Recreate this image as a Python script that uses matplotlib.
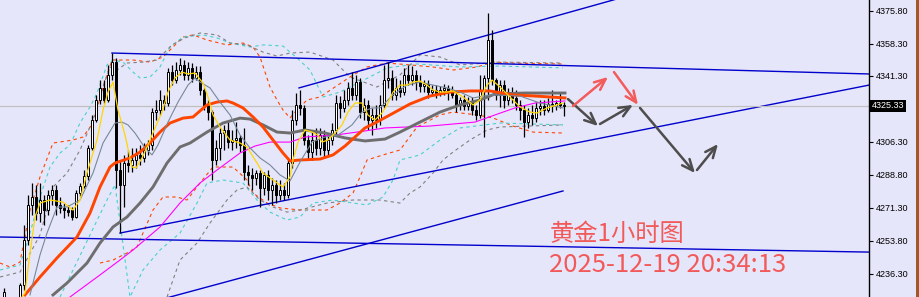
import matplotlib
matplotlib.use("Agg")

import matplotlib.pyplot as plt
from matplotlib.patches import Rectangle
from matplotlib.transforms import blended_transform_factory

# ---- candles (one per hour, oldest first) ----
opens = [
    4219.9, 4220.5, 4218.0, 4220.0, 4219.9, 4230.5, 4254.3, 4272.9, 4277.1, 4268.6,
    4275.5, 4270.2, 4278.2, 4280.8, 4272.9, 4271.3, 4270.2, 4270.2, 4266.5, 4279.2,
    4282.9, 4288.2, 4303.1, 4317.9, 4328.5, 4334.9, 4328.5, 4341.8, 4348.6, 4291.4,
    4283.5, 4295.1, 4294.1, 4296.7, 4299.4, 4297.8, 4302.0, 4304.7, 4322.1, 4323.2,
    4328.5, 4326.9, 4343.3, 4339.1, 4344.4, 4347.0, 4341.8, 4345.5, 4340.2, 4343.3,
    4333.8, 4325.9, 4322.1, 4296.7, 4303.1, 4311.0, 4312.6, 4306.2, 4307.3, 4308.4,
    4304.7, 4290.3, 4288.7, 4287.2, 4289.8, 4281.9, 4288.7, 4280.8, 4283.5, 4278.2,
    4280.8, 4278.2, 4295.1, 4317.9, 4325.9, 4324.3, 4307.3, 4300.9, 4307.3, 4303.1,
    4310.0, 4302.0, 4307.3, 4312.6, 4326.9, 4324.3, 4328.5, 4334.9, 4331.2, 4338.0,
    4322.1, 4325.9, 4317.9, 4320.5, 4317.9, 4325.9, 4339.1, 4340.2, 4331.2, 4334.9,
    4332.7, 4341.8, 4339.1, 4341.8, 4338.0, 4335.9, 4337.0, 4332.7, 4333.8, 4332.2,
    4333.8, 4334.9, 4332.7, 4331.2, 4325.9, 4328.5, 4325.3, 4327.4, 4323.2, 4320.5,
    4333.8, 4340.2, 4360.3, 4339.1, 4331.2, 4336.4, 4328.5, 4332.7, 4329.6, 4325.9,
    4323.2, 4316.8, 4320.5, 4318.9, 4324.3, 4325.3, 4323.2, 4326.4, 4325.3, 4326.9,
    4325.9,
]
highs = [
    4228.9, 4223.0, 4222.0, 4223.5, 4231.5, 4262.3, 4278.2, 4284.5, 4283.5, 4284.5,
    4278.2, 4280.8, 4283.5, 4283.5, 4277.1, 4273.9, 4272.9, 4271.8, 4280.8, 4284.5,
    4291.4, 4304.7, 4320.6, 4331.2, 4339.1, 4339.1, 4347.1, 4353.4, 4350.8, 4296.7,
    4299.4, 4302.0, 4303.1, 4303.1, 4304.7, 4305.7, 4307.3, 4324.3, 4328.5, 4333.8,
    4331.2, 4345.5, 4347.1, 4348.6, 4350.8, 4349.7, 4348.6, 4348.1, 4346.5, 4346.5,
    4334.9, 4328.5, 4323.2, 4307.3, 4313.7, 4315.3, 4316.8, 4312.6, 4316.8, 4310.0,
    4313.7, 4294.1, 4292.5, 4291.4, 4291.4, 4290.3, 4291.4, 4287.2, 4286.1, 4286.1,
    4284.5, 4297.8, 4323.2, 4332.2, 4333.8, 4325.9, 4310.0, 4312.6, 4313.7, 4313.7,
    4312.6, 4310.0, 4316.3, 4331.2, 4330.6, 4333.8, 4338.0, 4343.3, 4341.8, 4340.2,
    4329.6, 4328.5, 4324.3, 4325.9, 4331.2, 4347.1, 4348.6, 4344.4, 4340.2, 4339.1,
    4345.5, 4347.1, 4346.5, 4344.4, 4341.8, 4339.1, 4339.1, 4336.4, 4336.4, 4335.9,
    4337.0, 4336.4, 4335.9, 4333.8, 4330.1, 4331.2, 4330.1, 4330.1, 4325.9, 4341.8,
    4341.8, 4374.6, 4365.6, 4340.2, 4339.1, 4339.1, 4334.9, 4335.4, 4333.8, 4328.5,
    4325.9, 4324.3, 4325.9, 4327.4, 4328.5, 4328.5, 4329.6, 4333.8, 4328.5, 4332.7,
    4327.4,
]
lows = [
    4217.2, 4215.0, 4214.0, 4215.0, 4215.0, 4227.8, 4251.7, 4267.5, 4264.9, 4263.8,
    4262.3, 4267.5, 4272.9, 4267.5, 4268.6, 4266.0, 4267.0, 4264.9, 4266.0, 4277.6,
    4281.9, 4286.1, 4302.0, 4316.8, 4326.4, 4326.9, 4327.4, 4339.1, 4281.9, 4258.0,
    4271.8, 4290.3, 4290.3, 4292.5, 4294.1, 4295.6, 4299.4, 4302.0, 4317.9, 4320.6,
    4323.2, 4325.3, 4336.4, 4337.5, 4341.8, 4339.1, 4339.1, 4338.0, 4339.1, 4331.2,
    4323.2, 4317.9, 4286.1, 4294.1, 4296.7, 4302.0, 4303.1, 4302.0, 4303.1, 4300.9,
    4286.1, 4283.5, 4280.8, 4283.5, 4271.8, 4278.2, 4275.5, 4272.9, 4273.9, 4275.5,
    4275.5, 4276.6, 4292.5, 4315.3, 4320.6, 4304.7, 4296.7, 4296.7, 4299.4, 4299.4,
    4297.8, 4299.4, 4304.7, 4309.9, 4318.9, 4322.1, 4325.9, 4328.5, 4328.5, 4318.9,
    4317.9, 4312.6, 4309.9, 4313.7, 4315.3, 4324.3, 4334.9, 4328.5, 4328.5, 4330.1,
    4331.2, 4336.4, 4336.4, 4333.8, 4332.7, 4332.7, 4329.6, 4330.6, 4329.6, 4330.6,
    4331.2, 4328.5, 4329.6, 4322.1, 4323.2, 4323.2, 4323.2, 4320.6, 4317.9, 4318.9,
    4308.9, 4328.5, 4336.4, 4328.5, 4324.8, 4324.3, 4325.9, 4326.9, 4323.2, 4317.9,
    4308.9, 4313.7, 4315.3, 4316.8, 4320.6, 4320.6, 4322.1, 4322.1, 4323.2, 4324.3,
    4320.0,
]
closes = [
    4226.7, 4218.0, 4220.0, 4219.9, 4230.5, 4254.3, 4272.9, 4277.1, 4268.6, 4275.5,
    4270.2, 4278.2, 4280.8, 4272.9, 4271.3, 4270.2, 4269.1, 4266.5, 4279.2, 4282.9,
    4288.2, 4303.1, 4317.9, 4328.5, 4334.9, 4328.5, 4341.8, 4348.6, 4291.4, 4283.5,
    4295.1, 4294.1, 4296.7, 4299.4, 4297.8, 4302.0, 4304.7, 4322.1, 4323.2, 4328.5,
    4326.9, 4343.3, 4339.1, 4344.4, 4347.0, 4341.8, 4345.5, 4340.2, 4343.3, 4333.8,
    4325.9, 4322.1, 4296.7, 4303.1, 4311.0, 4312.6, 4306.2, 4307.3, 4308.4, 4304.7,
    4290.3, 4288.7, 4287.2, 4289.8, 4281.9, 4288.7, 4280.8, 4283.5, 4278.2, 4280.8,
    4278.2, 4295.1, 4317.9, 4325.9, 4324.3, 4307.3, 4300.9, 4307.3, 4303.1, 4310.0,
    4302.0, 4307.3, 4312.6, 4326.9, 4324.3, 4328.5, 4334.9, 4331.2, 4338.0, 4322.1,
    4325.9, 4317.9, 4320.5, 4317.9, 4325.9, 4339.1, 4340.2, 4331.2, 4334.9, 4332.7,
    4341.8, 4339.1, 4341.8, 4338.0, 4335.9, 4337.0, 4332.7, 4333.8, 4332.2, 4333.8,
    4334.9, 4332.7, 4331.2, 4325.9, 4328.5, 4325.3, 4327.4, 4323.2, 4320.5, 4333.8,
    4340.2, 4360.3, 4339.1, 4331.2, 4336.4, 4328.5, 4332.7, 4329.6, 4325.9, 4323.2,
    4316.8, 4320.5, 4318.9, 4324.3, 4325.3, 4323.2, 4326.4, 4325.3, 4326.9, 4325.9,
    4325.3,
]
last_price = 4325.33

# ---- indicator lines (bar index, price) ----
ma_fast_bars = [4.5, 5.25, 6.5, 7.75, 9, 11.5, 14.75, 17.25, 19, 20.75, 23.25, 24.75, 26, 27.25,
                28.5, 30.25, 32, 33, 34.5, 36, 37.75, 39.5, 41, 42.75, 44.5, 46, 47.75, 49.75,
                51, 52.25, 54, 56.5, 59, 60.75, 63.25, 64.75, 67.25, 69.75, 71.5, 72.25, 73.5,
                75.25, 77, 78.5, 79.5, 81, 82.75, 84.5, 86, 87.75, 89.5, 91, 92.75, 94.5, 95.75,
                97.25, 99, 100.75, 102.25, 104, 105.75, 107.25, 109, 110.75, 112.25, 114,
                115.75, 117.25, 119, 120.75, 122, 124, 126.5, 129, 131.5, 133.25, 135.75,
                138.25, 139.75]
ma_fast = [4224.1, 4226.2, 4247.4, 4266.5, 4273.9, 4275.5, 4274.4, 4270.2, 4275.5, 4289.8,
           4307.3, 4323.2, 4332.7, 4338.0, 4323.2, 4310.0, 4293.0, 4292.5, 4297.8, 4304.7,
           4313.7, 4322.1, 4332.7, 4340.2, 4343.3, 4342.3, 4342.8, 4337.5, 4330.1, 4320.6,
           4314.2, 4307.3, 4305.7, 4303.6, 4295.1, 4289.8, 4286.1, 4282.4, 4287.7, 4296.7,
           4306.2, 4312.6, 4311.5, 4309.9, 4306.2, 4307.3, 4311.0, 4315.3, 4322.1, 4326.9,
           4326.9, 4320.5, 4317.9, 4321.6, 4325.9, 4332.7, 4336.4, 4336.4, 4338.0, 4338.6,
           4336.4, 4333.8, 4332.7, 4332.7, 4333.3, 4331.2, 4328.5, 4325.9, 4328.5, 4336.4,
           4339.1, 4335.4, 4330.1, 4324.8, 4322.1, 4321.6, 4324.3, 4325.9, 4326.9]

ma_mid_bars = [6.5, 9, 10.75, 13.25, 15.75, 19, 22.25, 24.75, 27.75, 29.5, 31, 32.75, 35.25, 37,
               38.5, 41, 43.5, 46, 47.75, 49, 51.5, 54, 56.5, 59, 61.5, 64, 66.5, 69, 71.5, 74,
               77, 80.25, 83.5, 87, 89.5, 92, 94, 97.25, 100.75, 104, 107.25, 110.75, 114,
               117.25, 121.5, 129, 134, 139.75]
ma_mid = [4225.2, 4246.4, 4258.0, 4271.8, 4271.8, 4275.5, 4289.8, 4305.7, 4316.3, 4316.8,
          4315.3, 4311.0, 4303.1, 4299.4, 4304.7, 4316.8, 4327.4, 4336.4, 4340.2, 4338.0,
          4334.9, 4327.4, 4320.6, 4310.0, 4303.1, 4297.8, 4294.1, 4288.8, 4285.6, 4295.6,
          4306.2, 4308.9, 4309.9, 4315.3, 4322.1, 4324.3, 4324.3, 4331.2, 4336.4, 4338.0,
          4336.4, 4334.9, 4332.7, 4329.6, 4331.2, 4330.6, 4326.9, 4324.3]

ma_orange_bars = [5.25, 9, 13.25, 18.25, 21.5, 24, 26.5, 27.75, 31.5, 34, 36.5, 39, 41.5, 44.75,
                  47.25, 49, 50.75, 53.25, 55.75, 57.25, 59.75, 62.25, 64.75, 67.25, 69.75,
                  71.5, 74, 79, 82.25, 85.25, 87.75, 90.25, 92.75, 96.5, 101.5, 106.5, 111.5,
                  116.5, 121.5, 127.25, 132.75, 140.25]
ma_orange = [4225.2, 4234.7, 4244.8, 4255.9, 4268.6, 4282.4, 4293.0, 4295.1, 4297.8, 4300.9,
             4305.7, 4311.5, 4316.3, 4318.9, 4319.5, 4322.7, 4325.9, 4327.4, 4328.0, 4326.9,
             4324.3, 4319.5, 4314.2, 4307.3, 4300.4, 4296.2, 4296.7, 4297.2, 4299.4, 4304.1,
             4308.9, 4313.7, 4316.3, 4320.6, 4326.4, 4330.6, 4332.7, 4333.3, 4333.3, 4331.2,
             4330.6, 4329.6]

ma_slow_bars = [12.25, 15.75, 20.75, 24, 27.25, 30.75, 34, 37.25, 40.75, 44, 46.5, 50.75, 54.75,
                59, 61.5, 64.75, 68.25, 71.5, 75.25, 80.25, 85.25, 90.25, 95.25, 99, 104, 109,
                114, 119, 122.75, 130.25, 140.25]
ma_slow = [4225.2, 4231.5, 4242.1, 4252.7, 4261.2, 4266.5, 4273.9, 4282.4, 4295.1, 4303.6,
           4305.7, 4311.5, 4316.3, 4318.9, 4318.4, 4315.3, 4311.5, 4311.0, 4312.6, 4311.0,
           4308.4, 4306.8, 4307.8, 4311.5, 4316.8, 4322.1, 4325.9, 4328.5, 4331.7, 4332.2,
           4332.2]

ma_magenta_bars = [16.5, 24, 29, 32.25, 39, 44, 49, 53.25, 59, 62.75, 66.5, 71.5, 75.25, 82.75,
                   90.25, 95.25, 106.5, 117.75, 122.75, 127.75, 132.75, 140.25]
ma_magenta = [4224.1, 4235.8, 4243.7, 4249.0, 4261.2, 4273.9, 4284.5, 4291.4, 4300.4, 4304.1,
              4306.2, 4306.2, 4308.9, 4309.9, 4312.1, 4313.7, 4314.7, 4316.8, 4320.6, 4324.3,
              4326.9, 4328.0]

# envelope bands (dashed)
band_orange_up_bars = [-1, 1.5, 4, 6.5, 9, 12.25, 17.25, 19.75, 22.25, 24.75, 27, 32.25, 36.5,
                       39.75, 42.25, 44.75, 47.25, 50.75, 55.75, 59.75, 62.25, 64, 66.5, 68.25,
                       69.75, 71.5, 73.25, 75.75, 79, 86.5, 90.75, 95.75, 101.5, 107.25, 112.25,
                       118.25, 122.25, 127.25, 139.75]
band_orange_up = [4242.1, 4240.0, 4242.6, 4270.2, 4287.7, 4305.7, 4307.3, 4308.9, 4316.3, 4335.4,
                  4349.7, 4349.7, 4348.6, 4351.3, 4356.6, 4361.9, 4363.0, 4360.3, 4357.7, 4358.7,
                  4356.6, 4351.3, 4335.4, 4328.5, 4323.2, 4319.0, 4323.2, 4328.5, 4330.1, 4340.7,
                  4346.0, 4348.1, 4347.1, 4346.0, 4344.4, 4346.0, 4348.6, 4348.1, 4347.6]
band_orange_dn_bars = [24, 27.25, 30.75, 33.25, 34.75, 37.25, 39.75, 43.25, 45.75, 49, 52.25,
                       57.25, 60.75, 62.25, 65.75, 69, 74, 80.75, 84, 87.25, 89, 90.75, 94.75, 99,
                       103.25, 109, 112.25, 118.25, 122.25, 127.25, 132.25, 139.75]
band_orange_dn = [4242.1, 4243.7, 4247.4, 4250.6, 4258.0, 4270.2, 4277.1, 4277.1, 4275.5, 4284.5,
                  4293.0, 4293.0, 4286.1, 4279.2, 4273.9, 4271.3, 4270.2, 4270.2, 4273.9, 4279.2,
                  4287.7, 4296.7, 4299.4, 4302.0, 4314.2, 4320.6, 4322.1, 4320.6, 4319.0, 4314.7,
                  4311.5, 4311.0]
band_cyan_up_bars = [-1, 4, 6.5, 9, 11.5, 14, 16.5, 19, 21.5, 23.25, 25.75, 27.25, 29.75, 32.25,
                     34, 36.5, 39, 41.5, 44.75, 49.75, 53.25, 56.5, 61.5, 64.75, 69.75, 71.5,
                     73.25, 76.5, 79.75, 84, 89, 95.75, 103.25, 114, 124, 139.75]
band_cyan_up = [4238.4, 4241.0, 4258.0, 4277.1, 4293.0, 4300.4, 4304.7, 4316.3, 4324.8, 4332.2,
                4347.1, 4349.7, 4348.6, 4343.3, 4340.2, 4340.7, 4346.0, 4356.6, 4361.9, 4363.0,
                4361.4, 4358.7, 4356.6, 4357.7, 4357.1, 4353.9, 4350.8, 4344.4, 4330.1, 4332.7,
                4338.0, 4345.5, 4347.6, 4346.0, 4346.5, 4345.5]
band_cyan_dn_bars = [14, 21.5, 25.75, 27.75, 31.5, 34.75, 39, 44, 48.25, 50.75, 54.75, 59.75,
                     63.25, 66.5, 70.75, 74, 77.25, 82.25, 87.25, 90.75, 94.75, 97.25, 99, 104,
                     109, 114, 124, 139.75]
band_cyan_dn = [4224.1, 4257.0, 4275.5, 4283.5, 4224.1, 4238.4, 4249.0, 4258.0, 4273.9, 4284.5,
                4286.1, 4284.5, 4275.5, 4269.1, 4264.9, 4266.5, 4273.9, 4275.5, 4273.9, 4272.9,
                4277.1, 4286.1, 4296.7, 4299.4, 4307.3, 4313.7, 4316.3, 4315.3]
band_gray_up_bars = [-1, 4, 9, 12.25, 15.75, 19, 22.25, 24.75, 26.5, 28.25, 30.75, 34.75, 38.25,
                     42, 45.25, 49, 53.25, 56.5, 60.75, 64.75, 68.25, 71.5, 76.5, 82.25, 86.5,
                     93.25, 99, 104, 109, 114, 124, 139.75]
band_gray_up = [4234.7, 4237.3, 4257.0, 4282.4, 4289.8, 4302.0, 4317.9, 4335.4, 4346.0, 4344.4,
                4348.1, 4348.6, 4349.7, 4357.7, 4361.4, 4364.0, 4363.0, 4358.7, 4357.7, 4353.9,
                4351.8, 4353.4, 4353.9, 4349.7, 4340.7, 4335.4, 4341.8, 4352.4, 4351.3, 4347.1,
                4348.6, 4348.1]
band_gray_dn_bars = [40.75, 44, 48.25, 51.5, 55.75, 58.25, 60.75, 64, 67.25, 70.75, 74, 80.75,
                     87.25, 94, 99, 101.5, 104, 107.25, 109.75, 112.25, 116.5, 120.75, 124,
                     139.75]
band_gray_dn = [4224.1, 4243.7, 4252.7, 4263.3, 4275.5, 4280.8, 4282.4, 4275.5, 4271.8, 4269.1,
                4270.2, 4273.9, 4275.5, 4275.5, 4273.9, 4279.2, 4282.4, 4289.8, 4296.7, 4300.9,
                4307.3, 4312.6, 4314.2, 4315.3]

# ---- hand-drawn trend lines: ((bar, price), (bar, price)) ----
trend_lines = [
    ((27, 4353.4), (216.25, 4342.3)),
    ((29, 4258.0), (216.25, 4336.4)),
    ((73.75, 4334.9), (170.0, 4392.0)),
    ((-1, 4255.9), (216.25, 4247.9)),
    ((32.25, 4218.8), (139.75, 4280.3)),
]
gray_arrows = [
    ((141.0, 4329.0), (148.5, 4314.7)),
    ((149.0, 4315.8), (157.25, 4325.9)),
    ((159.0, 4324.3), (172.75, 4289.8)),
    ((173.25, 4291.4), (178.5, 4305.2)),
]
red_arrows = [
    ((142.25, 4325.3), (151.0, 4340.7)),
    ((152.5, 4343.3), (158.5, 4325.9)),
]

tick_prices = [4375.80, 4358.30, 4341.30, 4306.30, 4288.80, 4271.30, 4253.80, 4236.30]
title_text = "黄金1小时图"
stamp_text = "2025-12-19 20:34:13"

BG = "#E6E6FA"

fig = plt.figure(figsize=(9.19, 2.97), dpi=100, facecolor=BG)
ax = fig.add_axes([0, 0, 869 / 919, 1])
ax.set_facecolor(BG)
ax.set_xlim(-1, 216.25)
ax.set_ylim(4224.1, 4381.5)

dash = (0, (3, 3))
ax.plot(band_orange_up_bars, band_orange_up, color="#FF4500", lw=0.8, ls=dash)
ax.plot(band_orange_dn_bars, band_orange_dn, color="#FF4500", lw=0.8, ls=dash)
ax.plot(band_cyan_up_bars, band_cyan_up, color="#48D1CC", lw=0.8, ls=dash)
ax.plot(band_cyan_dn_bars, band_cyan_dn, color="#48D1CC", lw=0.8, ls=dash)
ax.plot(band_gray_up_bars, band_gray_up, color="#808080", lw=0.8, ls=dash)
ax.plot(band_gray_dn_bars, band_gray_dn, color="#808080", lw=0.8, ls=dash)

for (x0, y0), (x1, y1) in trend_lines:
    ax.plot([x0, x1], [y0, y1], color="#0000CD", lw=1.0)

ax.axhline(last_price, color="#C0C0C0", lw=0.9)

# candles
bars = list(range(len(closes)))
ax.vlines(bars, lows, highs, color="black", lw=0.9, zorder=3)
for i in bars:
    bottom = min(opens[i], closes[i])
    height = max(abs(closes[i] - opens[i]), 0.3)
    face = "white" if closes[i] >= opens[i] else "black"
    ax.add_patch(Rectangle((i - 0.3, bottom), 0.6, height, facecolor=face,
                           edgecolor="black", lw=0.7, zorder=4))

ax.plot(ma_magenta_bars, ma_magenta, color="#FF00FF", lw=0.8, zorder=5)
ax.plot(ma_slow_bars, ma_slow, color="#6E6E6E", lw=2.1, zorder=5)
ax.plot(ma_orange_bars, ma_orange, color="#FF4500", lw=2.1, zorder=5)
ax.plot(ma_mid_bars, ma_mid, color="#778899", lw=0.8, zorder=5)
ax.plot(ma_fast_bars, ma_fast, color="#FFD700", lw=0.9, zorder=6)

for (x0, y0), (x1, y1) in gray_arrows:
    ax.annotate("", xy=(x1, y1), xytext=(x0, y0),
                arrowprops=dict(arrowstyle="->,head_length=0.8,head_width=0.35",
                                color="#4D4D4D", lw=1.8, shrinkA=0, shrinkB=0), zorder=7)
for (x0, y0), (x1, y1) in red_arrows:
    ax.annotate("", xy=(x1, y1), xytext=(x0, y0),
                arrowprops=dict(arrowstyle="->,head_length=0.8,head_width=0.35",
                                color="#F45B5B", lw=1.8, shrinkA=0, shrinkB=0), zorder=7)

# right price scale
for side in ("left", "top", "bottom"):
    ax.spines[side].set_visible(False)
ax.spines["right"].set_color("black")
ax.spines["right"].set_linewidth(1.0)
ax.set_xticks([])
ax.yaxis.tick_right()
ax.set_yticks(tick_prices)
ax.set_yticklabels([f"{p:.2f}" for p in tick_prices], fontsize=6.5,
                   family="Liberation Sans")
ax.tick_params(axis="y", direction="out", length=3, width=0.8, pad=2, colors="black")

trans = blended_transform_factory(ax.transAxes, ax.transData)
ax.text(1.003, last_price, f"{last_price:.2f}", transform=trans, ha="left", va="center",
        fontsize=6.5, family="Liberation Sans", color="white", clip_on=False,
        bbox=dict(boxstyle="square,pad=0.2", fc="black", ec="none"))

fig.add_artist(Rectangle((916 / 919, 0), 3 / 919, 1, transform=fig.transFigure,
                         facecolor="#A0582A", edgecolor="none"))

fig.text(550 / 919, 1 - 234 / 297, title_text, color="#F25A5A", fontsize=17.5,
         family=["Noto Sans CJK SC", "DejaVu Sans"], ha="left", va="center")
fig.text(549 / 919, 1 - 265 / 297, stamp_text, color="#F25A5A", fontsize=18.5,
         family=["Noto Sans CJK SC", "DejaVu Sans"], ha="left", va="center")

fig.savefig("out.png", dpi=100, facecolor=BG)
